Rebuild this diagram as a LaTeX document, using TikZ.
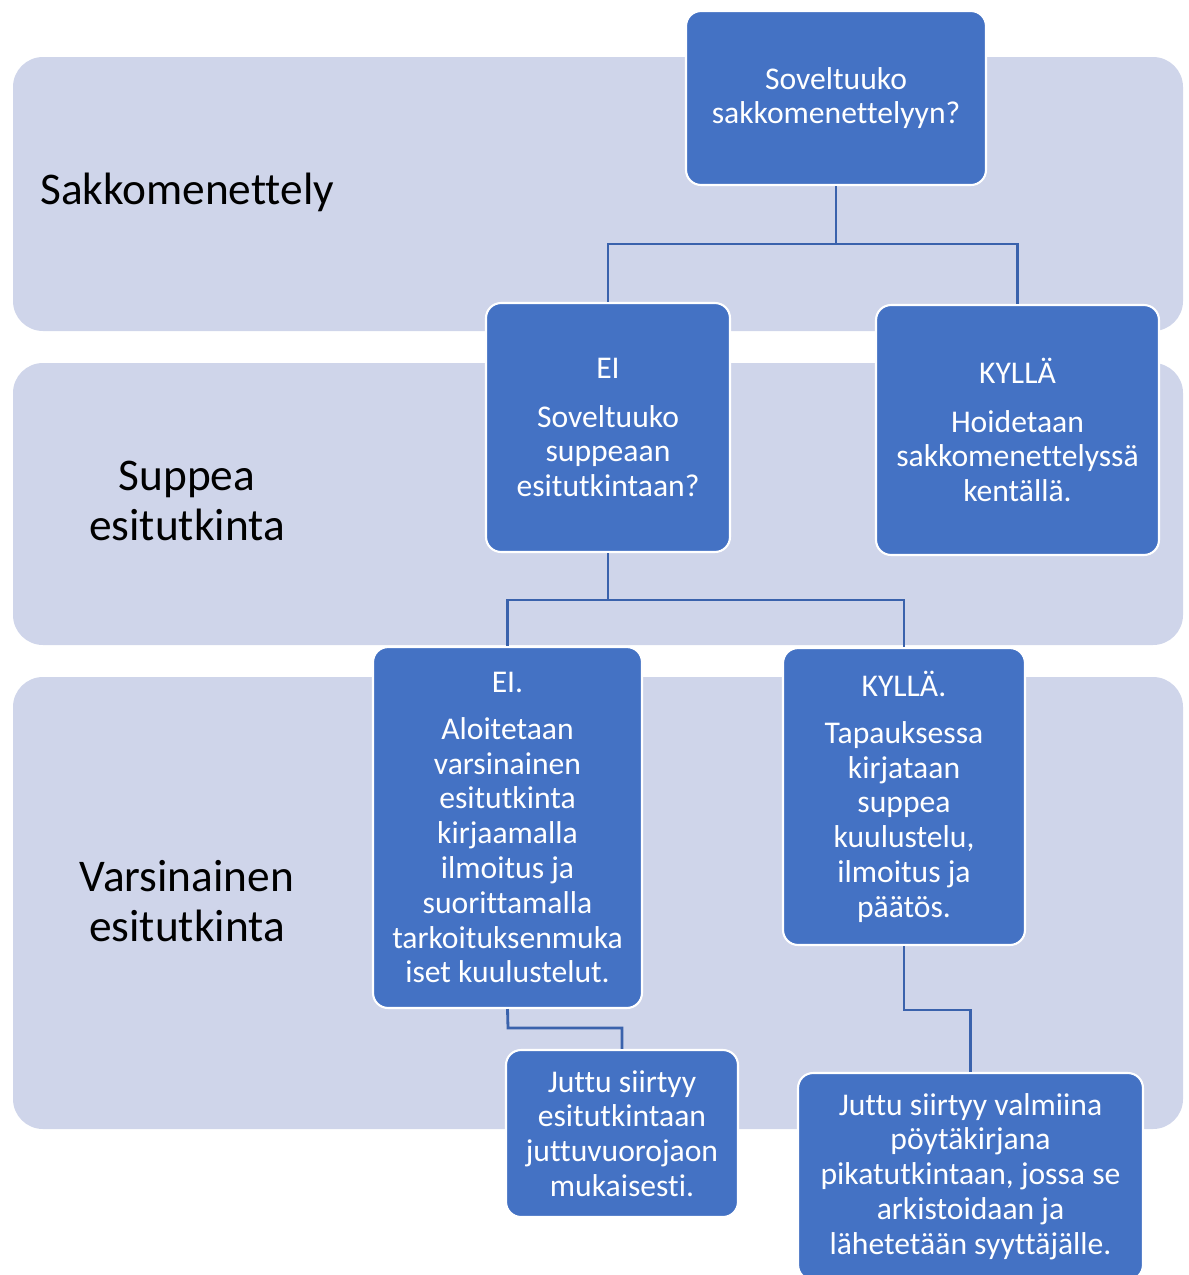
\documentclass[tikz,border=0pt]{standalone}
\usepackage{fontspec}
\setmainfont[Ligatures=NoCommon]{Carlito}
\definecolor{bandfill}{HTML}{CFD5EA}
\definecolor{boxfill}{HTML}{4472C4}
\definecolor{linkcol}{HTML}{3A62AC}
\begin{document}
\begin{tikzpicture}
  [x=0.02cm, y=-0.02cm,
   band/.style={fill=bandfill, rounded corners=0.6cm},
   stage/.style={font=\fontsize{25.8}{28.4}\selectfont, align=center, text=black},
   box/.style={draw=white, line width=1.2pt, fill=boxfill, rounded corners=0.3cm,
     text=white, align=center, inner sep=2pt, font=\fontsize{18}{19.8}\selectfont},
   link/.style={draw=linkcol, line width=1.6pt}]
  \useasboundingbox (0,0) rectangle (1188,1275);
  % taustakaistat
  \fill[band] (13,57) rectangle (1183,331);
  \fill[band] (13,363) rectangle (1183,645);
  \fill[band] (13,677) rectangle (1183,1129);
  \node[stage, anchor=west] (sakko) at (34,192) {Sakkomenettely};
  \node[stage] (suppea) at (187,501) {Suppea\\esitutkinta};
  \node[stage] (varsinainen) at (187,901) {Varsinainen\\esitutkinta};
  % yhteydet
  \coordinate (jako1) at (836,244);
  \coordinate (jako2) at (608,600);
  \coordinate (jako3) at (508,1028);
  \coordinate (jako4) at (904,1010);
  \node[box, minimum width=6cm, minimum height=3.48cm] (kysymys) at (836,98)
    {Soveltuuko\\sakkomenettelyyn?};
  \node[box, minimum width=4.88cm, minimum height=4.98cm] (ei) at (608,427.5)
    {EI\\[8pt]Soveltuuko\\suppeaan\\esitutkintaan?};
  \node[box, minimum width=5.66cm, minimum height=5cm] (kylla) at (1017.5,430)
    {KYLLÄ\\[8pt]Hoidetaan\\sakkomenettelyssä\\kentällä.};
  \node[box, minimum width=5.38cm, minimum height=7.22cm] (varsinainen box) at (507.5,827.5)
    {EI.\\[7pt]Aloitetaan\\varsinainen\\esitutkinta\\kirjaamalla\\ilmoitus ja\\suorittamalla\\tarkoituksenmuka\\iset kuulustelut.};
  \node[box, minimum width=4.84cm, minimum height=5.94cm] (suppea box) at (904,796.5)
    {KYLLÄ.\\[7pt]Tapauksessa\\kirjataan\\suppea\\kuulustelu,\\ilmoitus ja\\päätös.};
  \node[box, minimum width=4.64cm, minimum height=3.34cm] (juttuvuoro) at (622,1133.5)
    {Juttu siirtyy\\esitutkintaan\\juttuvuorojaon\\mukaisesti.};
  \node[box, minimum width=6.9cm, minimum height=4.14cm] (pikatutkinta) at (970.5,1176.5)
    {Juttu siirtyy valmiina\\pöytäkirjana\\pikatutkintaan, jossa se\\arkistoidaan ja\\lähetetään syyttäjälle.};
  \draw[link] (kysymys.south) -- (jako1) -| (ei.north);
  \draw[link] (jako1) -| (kylla.north);
  \draw[link] (ei.south) -- (jako2) -| (varsinainen box.north);
  \draw[link] (jako2) -| (suppea box.north);
  \draw[link] (varsinainen box.south) -- (jako3) -| (juttuvuoro.north);
  \draw[link] (suppea box.south) -- (jako4) -| (pikatutkinta.north);
\end{tikzpicture}
\end{document}
